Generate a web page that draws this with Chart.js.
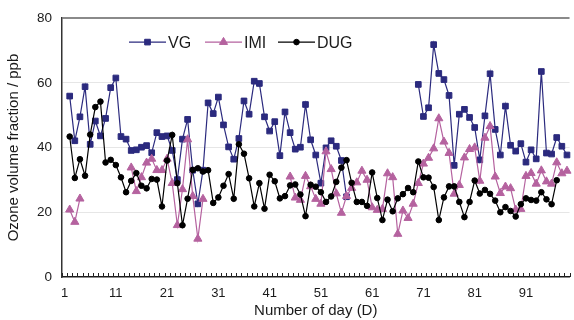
<!DOCTYPE html>
<html>
<head>
<meta charset="utf-8">
<script src="https://cdn.jsdelivr.net/npm/chart.js@4.4.0/dist/chart.umd.min.js"></script>
<style>
  html, body { margin: 0; padding: 0; background: #fff; overflow: hidden; }
  #wrap { width: 576px; height: 320px; position: relative; }
</style>
</head>
<body>
<div id="wrap"><canvas id="myChart"></canvas></div>
<script>
const FONT = "'Liberation Sans', Arial, sans-serif";

// day numbers on the category axis, only some of them get a label
const days = Array.from({ length: 99 }, (_, i) => String(i + 1));
const tickLabels = ['1', '11', '21', '31', '41', '51', '61', '71', '81', '91'];

const seriesNames = ['VG', 'IMI', 'DUG'];
const seriesColors = ['#2b2a7e', '#b5629f', '#000000'];
const seriesMarkers = ['rect', 'triangle', 'circle'];

// values in ppb, one per day, null = no measurement
const vg = [
    null, 55.9, 42.1, 49.5, 58.8, 41.0, 48.2, 43.6, 49.0, 58.5,
    61.5, 43.4, 42.6, 39.1, 39.3, 40.1, 40.6, 38.4, 44.6, 43.4,
    43.6, 39.1, 30.1, 42.6, 48.7, 33.0, 22.6, 33.0, 53.8, 50.5,
    55.6, 47.0, 40.2, 36.4, 42.8, 54.4, 50.3, 60.5, 59.8, 49.5,
    45.1, 48.0, 37.5, 51.0, 44.6, 39.5, 40.1, 53.3, 42.4, 37.7,
    29.0, 39.9, 42.1, 40.4, 36.0, 24.8, null, null, null, null,
    null, null, null, null, null, null, null, null, null, 59.5,
    49.6, 52.3, 71.8, 62.9, 61.0, 56.1, 34.5, 50.3, 51.8, 49.3,
    46.2, 36.2, 49.8, 62.8, 45.6, 37.7, 52.8, 40.7, 38.9, 41.2,
    35.5, 39.3, 36.5, 63.5, 38.3, 38.0, 43.1, 40.4, 37.7
];

const imi = [
    null, 20.8, 17.0, 24.2, null, null, null, null, null, null,
    null, null, null, 33.8, 26.5, 30.8, 35.3, 36.5, 33.0, 33.0,
    36.5, 29.0, 16.0, 27.1, 42.5, 25.0, 11.8, 24.1, null, null,
    null, null, null, null, null, null, null, null, null, null,
    null, null, null, null, 31.0, 24.5, 23.8, 31.2, 28.0, 24.1,
    22.6, 38.8, 33.3, 25.8, 19.8, 25.0, 27.5, 29.2, 32.8, 30.0,
    21.5, 20.7, 21.0, 32.0, 30.8, 13.3, 20.5, 18.2, 22.6, 29.0,
    35.0, 36.8, 39.7, 49.0, 41.8, 38.3, 25.7, 28.4, 36.9, 39.5,
    40.0, 29.7, 43.0, 46.6, 31.0, 25.9, 27.9, 27.4, 20.8, 21.0,
    31.2, 32.1, 28.8, 32.9, 29.5, 28.8, 35.4, 32.0, 32.8
];

const dug = [
    null, 43.4, 30.6, 36.4, 31.3, 44.0, 52.5, 54.2, 35.4, 36.2,
    34.6, 30.8, 26.2, 29.7, 32.1, 28.2, 27.4, 30.3, 30.1, 21.8,
    36.0, 43.9, 29.0, 16.0, 24.2, 33.1, 33.6, 32.6, 33.0, 22.9,
    24.6, 28.2, 31.8, 24.2, 41.0, 38.1, 30.5, 21.8, 29.0, 21.1,
    31.6, 29.6, 24.3, 25.0, 28.3, 28.6, 25.5, 18.8, 28.5, 27.9,
    26.2, 23.2, 24.9, 29.4, 33.8, 36.1, 29.1, 23.2, 23.2, 22.0,
    32.3, 24.4, 17.6, 23.9, 20.3, 24.3, 25.6, 27.5, 26.2, 35.7,
    30.8, 30.7, 27.8, 17.6, 24.6, 28.0, 28.0, 23.2, 18.5, 23.2,
    29.8, 25.8, 26.9, 25.7, 23.6, 20.0, 21.6, 20.4, 18.7, 22.5,
    24.3, 23.8, 23.6, 26.2, 24.0, 22.5, 29.9, null, null
];

function makeSet(i, values, radius) {
    return {
        label: seriesNames[i],
        data: values,
        borderColor: seriesColors[i],
        backgroundColor: seriesColors[i],
        pointBackgroundColor: seriesColors[i],
        pointBorderColor: seriesColors[i],
        pointStyle: seriesMarkers[i],
        pointRadius: radius,
        pointHoverRadius: radius,
        pointBorderWidth: 1,
        borderWidth: 1.2,
        tension: 0,
        spanGaps: false,
        order: 3 - i
    };
}

// legend sits inside the plot, line + marker + name
const insideLegend = {
    id: 'insideLegend',
    afterDraw(chart, args, opts) {
        const ctx = chart.ctx;
        const area = chart.chartArea;
        const y = area.top + 24;
        ctx.save();
        ctx.font = '16px ' + FONT;
        ctx.textBaseline = 'middle';
        chart.data.datasets.forEach((ds, i) => {
            const x = area.left + opts.starts[i];
            ctx.strokeStyle = ds.borderColor;
            ctx.fillStyle = ds.backgroundColor;
            ctx.lineWidth = 1.2;
            ctx.beginPath();
            ctx.moveTo(x, y);
            ctx.lineTo(x + 37, y);
            ctx.stroke();
            ctx.lineWidth = 1;
            Chart.helpers.drawPoint(ctx, {
                pointStyle: ds.pointStyle,
                radius: ds.pointRadius,
                borderWidth: 1,
                rotation: 0
            }, x + 18.5, y);
            ctx.fillStyle = '#1a1a1a';
            ctx.fillText(ds.label, x + 39, y + 1);
        });
        ctx.restore();
    }
};

// small tick marks between the days, pointing into the plot
const minorTicks = {
    id: 'minorTicks',
    beforeDatasetsDraw(chart) {
        const xs = chart.scales.x;
        const ctx = chart.ctx;
        const bottom = chart.chartArea.bottom;
        const step = xs.getPixelForValue(1) - xs.getPixelForValue(0);
        ctx.save();
        ctx.strokeStyle = '#222';
        ctx.lineWidth = 1;
        ctx.beginPath();
        for (let i = 0; i <= days.length; i++) {
            const px = Math.round(xs.getPixelForValue(i) - step / 2) + 0.5;
            ctx.moveTo(px, bottom);
            ctx.lineTo(px, bottom - 4);
        }
        ctx.stroke();
        ctx.restore();
    }
};

const config = {
    type: 'line',
    data: {
        labels: days,
        datasets: [
            makeSet(0, vg, 4.0),
            makeSet(1, imi, 4.7),
            makeSet(2, dug, 2.8)
        ]
    },
    options: {
        responsive: true,
        maintainAspectRatio: false,
        animation: false,
        layout: { padding: { top: 17, right: 0, left: 0, bottom: 0 } },
        plugins: {
            legend: { display: false },
            tooltip: { enabled: false },
            insideLegend: { starts: [67, 143, 216] }
        },
        scales: {
            x: {
                type: 'category',
                offset: true,
                grid: { display: true, drawOnChartArea: false, drawTicks: false, color: 'rgba(0,0,0,0)' },
                border: { display: true, color: '#1a1a1a', width: 1.5 },
                ticks: {
                    autoSkip: false,
                    maxRotation: 0,
                    padding: 9,
                    color: '#1a1a1a',
                    font: { family: FONT, size: 13 },
                    callback: function (value) {
                        const lab = this.getLabelForValue(value);
                        return tickLabels.includes(lab) ? lab : '';
                    }
                },
                title: {
                    display: true,
                    text: 'Number of day (D)',
                    color: '#1a1a1a',
                    font: { family: FONT, size: 15 },
                    padding: { top: 0, bottom: 0 }
                },
                afterFit: (scale) => { scale.height = 43; }
            },
            y: {
                min: 0,
                max: 80,
                ticks: {
                    stepSize: 20,
                    padding: 10,
                    color: '#1a1a1a',
                    font: { family: FONT, size: 13.5 }
                },
                grid: {
                    drawTicks: false,
                    color: (c) => c.tick.value === 80 ? '#8a8a8a' : (c.tick.value === 0 ? 'rgba(0,0,0,0)' : '#e6e6e6'),
                    lineWidth: (c) => c.tick.value === 80 ? 2 : 1
                },
                border: { display: true, color: '#333', width: 1.5 },
                title: {
                    display: true,
                    text: 'Ozone volume fraction / ppb',
                    color: '#1a1a1a',
                    font: { family: FONT, size: 15 },
                    padding: { top: 5, bottom: 0 }
                },
                afterFit: (scale) => { scale.width = 62; }
            }
        }
    },
    plugins: [insideLegend, minorTicks]
};

const myChart = new Chart(document.getElementById('myChart'), config);
</script>
</body>
</html>
